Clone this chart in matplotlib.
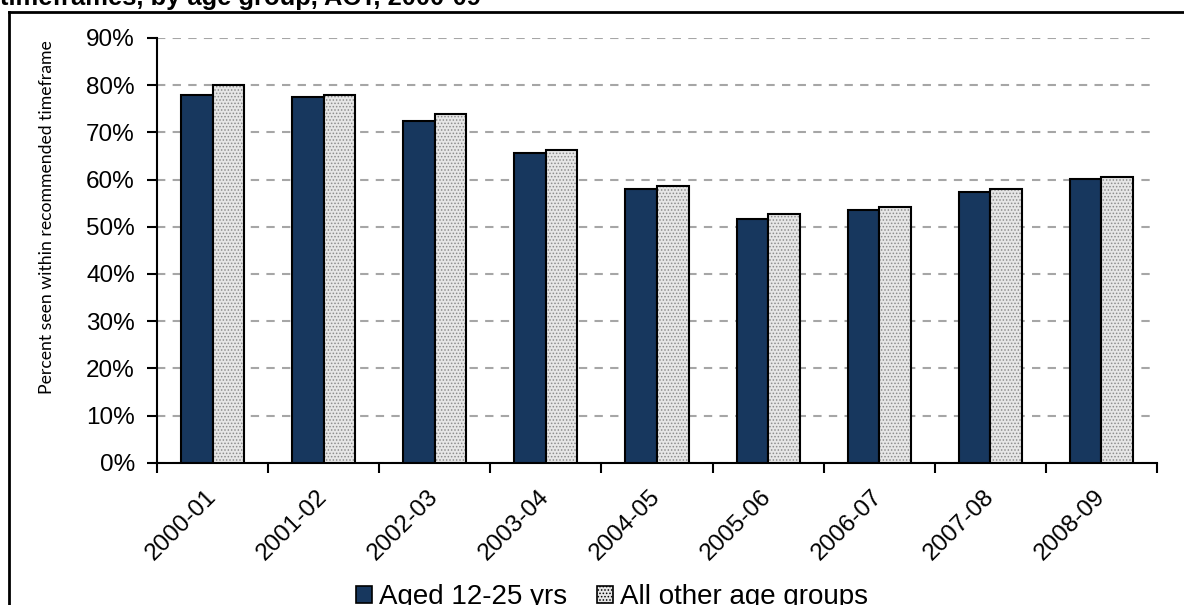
import matplotlib
matplotlib.use("Agg")
import matplotlib.pyplot as plt
import numpy as np
from matplotlib.patches import Patch
from matplotlib.lines import Line2D
from matplotlib.ticker import PercentFormatter

# values (percent)
years = ['2000-01', '2001-02', '2002-03', '2003-04', '2004-05',
         '2005-06', '2006-07', '2007-08', '2008-09']
aged_12_25 = [78.0, 77.6, 72.5, 65.7, 57.9, 51.6, 53.5, 57.3, 60.1]
other_ages = [80.0, 78.0, 74.0, 66.2, 58.7, 52.7, 54.2, 57.9, 60.5]

dark = '#17375E'
light = '#e6e6e6'

plt.rcParams['font.family'] = ['Liberation Sans', 'DejaVu Sans']
plt.rcParams['hatch.linewidth'] = 0.7

W, H = 1184, 605
fig = plt.figure(figsize=(W / 100, H / 100), dpi=100)
ax = fig.add_axes([157 / W, 1 - 462.7 / H, 1000 / W, (462.7 - 38) / H])

x = np.arange(len(years))
bw = 0.284
ax.bar(x - bw / 2, aged_12_25, bw, color=dark, edgecolor='black', linewidth=1.5, zorder=3)
# stippled fill then outline
ax.bar(x + bw / 2, other_ages, bw, color=light, edgecolor='#8c8c8c', hatch='.....',
       linewidth=0, zorder=3)
ax.bar(x + bw / 2, other_ages, bw, color='none', edgecolor='black', linewidth=1.5, zorder=4)

ax.set_xlim(-0.5, len(years) - 0.5)
ax.set_ylim(0, 90)
ax.set_yticks(np.arange(0, 91, 10))
ax.yaxis.set_major_formatter(PercentFormatter(decimals=0))
ax.set_xticks(np.arange(-0.5, len(years), 1.0))
ax.set_xticklabels([])
ax.set_xticks(x, minor=True)
ax.set_xticklabels(years, minor=True, rotation=45, ha='right', va='center',
                   rotation_mode='anchor', fontsize=17.5)
ax.tick_params(axis='x', which='minor', length=0, pad=22)
ax.tick_params(axis='x', which='major', direction='out', length=7, width=1.5)
ax.tick_params(axis='y', direction='out', length=7, width=1.5, labelsize=17.5, pad=9)

ax.grid(axis='y', color='#a6a6a6', linestyle=(0, (4, 3.5)), linewidth=1.5, zorder=0)
for s in ['top', 'right']:
    ax.spines[s].set_visible(False)
for s in ['left', 'bottom']:
    ax.spines[s].set_linewidth(1.5)

fig.text(47 / W, 1 - 217 / H, 'Percent seen within recommended timeframe',
         rotation=90, ha='center', va='center', fontsize=12.7,
         family=['Lato', 'DejaVu Sans'])

# title, clipped at the top of the image
fig.text(0, 1 - 5.5 / H, 'timeframes, by age group, ACT, 2000-09', ha='left', va='baseline',
         fontsize=18.4, fontweight='bold')

# outer chart frame
fig.add_artist(Line2D([9 / W, 9 / W], [0, 1 - 12 / H], color='black', lw=2,
                      transform=fig.transFigure))
fig.add_artist(Line2D([9 / W, 1], [1 - 12 / H, 1 - 12 / H], color='black', lw=2,
                      transform=fig.transFigure))

handles = [Patch(facecolor=dark, edgecolor='black', linewidth=1.2),
           Patch(facecolor=light, edgecolor='black', hatch='.....', linewidth=1.2)]
fig.legend(handles, ['Aged 12-25 yrs', 'All other age groups'], loc='center',
           bbox_to_anchor=(612 / W, 1 - 597 / H), ncol=2, frameon=False, fontsize=20,
           handlelength=0.55, handleheight=0.55, handletextpad=0.25, columnspacing=1.1,
           borderpad=0)

fig.savefig('out.png', dpi=100)
